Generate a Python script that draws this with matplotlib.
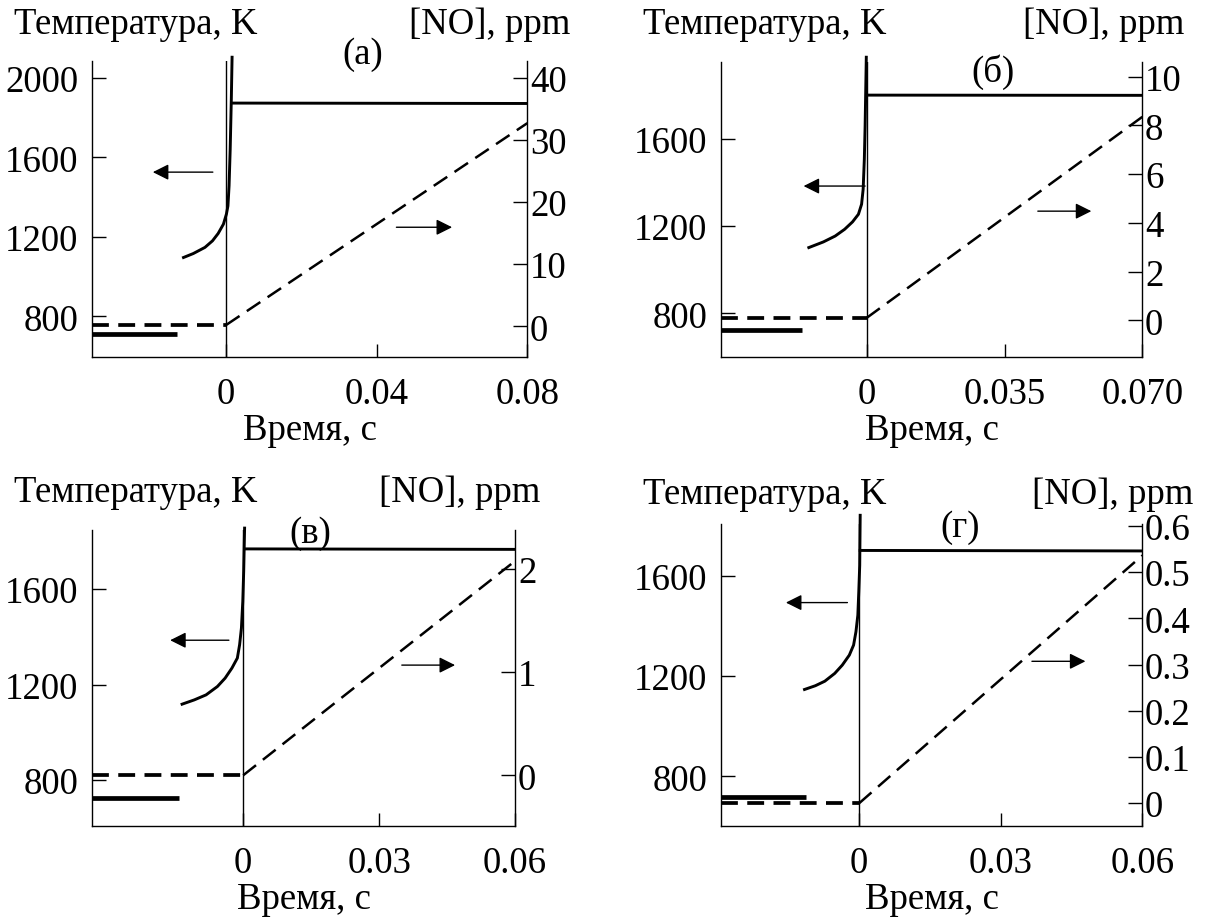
import numpy as np
import matplotlib
matplotlib.use("Agg")
import matplotlib.pyplot as plt

plt.rcParams['font.family'] = ['Liberation Serif', 'DejaVu Serif']
plt.rcParams['font.size'] = 26.5

# panel (а)
t_pre_a = [-0.0355, -0.0129]
T_pre_a = [709, 709]
t_rise_a = [-0.0113, -0.0087, -0.0056, -0.0036, -0.0021, -0.0007, 0.0001,
            0.0005, 0.0008, 0.0011, 0.0014, 0.0016]
T_rise_a = [1096, 1116, 1147, 1180, 1217, 1264, 1315, 1356, 1457, 1642, 1894, 2105]
t_hold_a = [0.0016, 0.08]
T_hold_a = [1874, 1872]
t_no_a = [0.0, 0.08]
no_a = [0.2, 32.7]
no_pre_a = [0.2, 0.2]

# panel (б)
t_pre_b = [-0.0370, -0.0164]
T_pre_b = [722, 722]
t_rise_b = [-0.0147, -0.0110, -0.0080, -0.0056, -0.0036, -0.0021, -0.0013,
            -0.0009, -0.0006, -0.0004, -0.0001]
T_rise_b = [1102, 1128, 1155, 1186, 1220, 1255, 1301, 1370, 1508, 1661, 1976]
t_hold_b = [0.0, 0.070]
T_hold_b = [1802, 1801]
t_no_b = [0.0, 0.070]
no_b = [0.1, 8.35]
no_pre_b = [0.1, 0.1]

# panel (в)
t_pre_c = [-0.0333, -0.0142]
T_pre_c = [725, 725]
t_rise_c = [-0.0135, -0.0108, -0.0082, -0.0057, -0.0040, -0.0025, -0.0013,
            -0.0008, -0.0004, -0.0001, 0.0001, 0.0003]
T_rise_c = [1118, 1136, 1157, 1192, 1227, 1269, 1311, 1367, 1437, 1548, 1674, 1855]
t_hold_c = [0.0003, 0.06]
T_hold_c = [1768, 1766]
t_no_c = [0.0, 0.06]
no_c = [0.0, 2.08]
no_pre_c = [0.0, 0.0]

# panel (г)
t_pre_d = [-0.0293, -0.0113]
T_pre_d = [716, 716]
t_rise_d = [-0.0116, -0.0093, -0.0073, -0.0052, -0.0036, -0.0021, -0.0012,
            -0.0007, -0.0003, -0.0001, 0.0001, 0.0002]
T_rise_d = [1146, 1161, 1179, 1210, 1243, 1283, 1323, 1376, 1442, 1535, 1641, 1840]
t_hold_d = [0.0002, 0.06]
T_hold_d = [1700, 1698]
t_no_d = [0.0, 0.06]
no_d = [0.0, 0.536]
no_pre_d = [0.0, 0.0]

xticks_a = [0, 0.04, 0.08]
xticks_b = [0, 0.035, 0.070]
xticks_c = [0, 0.03, 0.06]
xlabels_a = ['0', '0.04', '0.08']
xlabels_b = ['0', '0.035', '0.070']
xlabels_c = ['0', '0.03', '0.06']
Tticks_a = [800, 1200, 1600, 2000]
Tticks_b = [800, 1200, 1600]
noticks_a = [0, 10, 20, 30, 40]
noticks_b = [0, 2, 4, 6, 8, 10]
noticks_c = [0, 1, 2]
noticks_d = [0, 0.1, 0.2, 0.3, 0.4, 0.5, 0.6]
nolabels_d = ['0', '0.1', '0.2', '0.3', '0.4', '0.5', '0.6']

panels = [
    dict(rect=[0.0762, 0.6105, 0.3589, 0.3221], title='(а)', tpos=(0.621, 1.024),
         pre=(t_pre_a, T_pre_a), rise=(t_rise_a, T_rise_a), hold=(t_hold_a, T_hold_a),
         no=(t_no_a, no_a), nopre=no_pre_a, xl=(-0.0355, 0.08), Tl=(593, 2086), nl=(-5.0, 42.7),
         xt=xticks_a, xtl=xlabels_a, Tt=Tticks_a, nt=noticks_a, ntl=None,
         arr=((0.277, 0.139, 0.625), (0.699, 0.827, 0.439)),
         lab=((0.0115, 0.973), (0.4705, 0.973))),
    dict(rect=[0.5949, 0.6105, 0.3476, 0.321], title='(б)', tpos=(0.645, 0.969),
         pre=(t_pre_b, T_pre_b), rise=(t_rise_b, T_rise_b), hold=(t_hold_b, T_hold_b),
         no=(t_no_b, no_b), nopre=no_pre_b, xl=(-0.0370, 0.070), Tl=(598, 1954), nl=(-1.52, 10.6),
         xt=xticks_b, xtl=xlabels_b, Tt=Tticks_b, nt=noticks_b, ntl=None,
         arr=((0.342, 0.196, 0.580), (0.752, 0.879, 0.495)),
         lab=((0.5306, 0.973), (0.9773, 0.973))),
    dict(rect=[0.0762, 0.1008, 0.3488, 0.322], title='(в)', tpos=(0.515, 0.99),
         pre=(t_pre_c, T_pre_c), rise=(t_rise_c, T_rise_c), hold=(t_hold_c, T_hold_c),
         no=(t_no_c, no_c), nopre=no_pre_c, xl=(-0.0333, 0.06), Tl=(607, 1847), nl=(-0.495, 2.38),
         xt=xticks_c, xtl=xlabels_c, Tt=Tticks_b, nt=noticks_c, ntl=None,
         arr=((0.323, 0.184, 0.628), (0.732, 0.858, 0.544)),
         lab=((0.0115, 0.464), (0.4457, 0.464))),
    dict(rect=[0.5949, 0.1008, 0.3476, 0.329], title='(г)', tpos=(0.567, 0.99),
         pre=(t_pre_d, T_pre_d), rise=(t_rise_d, T_rise_d), hold=(t_hold_d, T_hold_d),
         no=(t_no_d, no_d), nopre=no_pre_d, xl=(-0.0293, 0.06), Tl=(601, 1807), nl=(-0.05, 0.605),
         xt=xticks_c, xtl=xlabels_c, Tt=Tticks_b, nt=noticks_d, ntl=nolabels_d,
         arr=((0.300, 0.154, 0.739), (0.738, 0.865, 0.545)),
         lab=((0.5306, 0.462), (0.985, 0.462))),
]

fig = plt.figure(figsize=(12.12, 9.2), dpi=100)

for p in panels:
    ax = fig.add_axes(p['rect'])
    ax2 = ax.twinx()
    for a in (ax, ax2):
        a.spines['top'].set_visible(False)
        for s in a.spines.values():
            s.set_linewidth(1.0)
    ax.spines['right'].set_visible(False)
    ax2.spines['left'].set_visible(False)
    ax2.spines['bottom'].set_visible(False)

    ax.set_xlim(*p['xl'])
    ax.set_ylim(*p['Tl'])
    ax2.set_ylim(*p['nl'])

    ax.axvline(0, color='black', lw=1.0)

    ax.plot(*p['pre'], color='black', lw=3.4, solid_capstyle='butt')
    ax.plot(*p['rise'], color='black', lw=2.1, clip_on=False)
    ax.plot(*p['hold'], color='black', lw=2.1)
    ax2.plot([p['xl'][0], 0], p['nopre'], color='black', lw=2.7, dashes=(4.5, 2.5))
    ax2.plot(*p['no'], color='black', lw=1.8, dashes=(6.5, 3.5))

    ax.set_xticks(p['xt'])
    ax.set_xticklabels(p['xtl'])
    ax.set_yticks(p['Tt'])
    ax2.set_yticks(p['nt'])
    if p['ntl'] is not None:
        ax2.set_yticklabels(p['ntl'])
    ax.tick_params(axis='x', direction='in', length=9.5, width=1.0, pad=14)
    ax.tick_params(axis='y', direction='in', length=10, width=1.0, pad=10)
    ax2.tick_params(axis='y', direction='in', length=10, width=1.0, pad=2)
    ax.set_xlabel('Время, с', labelpad=1)

    ax.text(p['tpos'][0], p['tpos'][1], p['title'], transform=ax.transAxes,
            ha='center', va='center')

    for tail, head, yy in p['arr']:
        ax.annotate('', xy=(head, yy), xytext=(tail, yy), xycoords='axes fraction',
                    arrowprops=dict(arrowstyle='-|>', color='black', lw=1.0,
                                    mutation_scale=24, shrinkA=0, shrinkB=0))

    fig.text(p['lab'][0][0], p['lab'][0][1], 'Температура, K', ha='left', va='center')
    fig.text(p['lab'][1][0], p['lab'][1][1], '[NO], ppm', ha='right', va='center')

fig.savefig('out.png', dpi=100)
